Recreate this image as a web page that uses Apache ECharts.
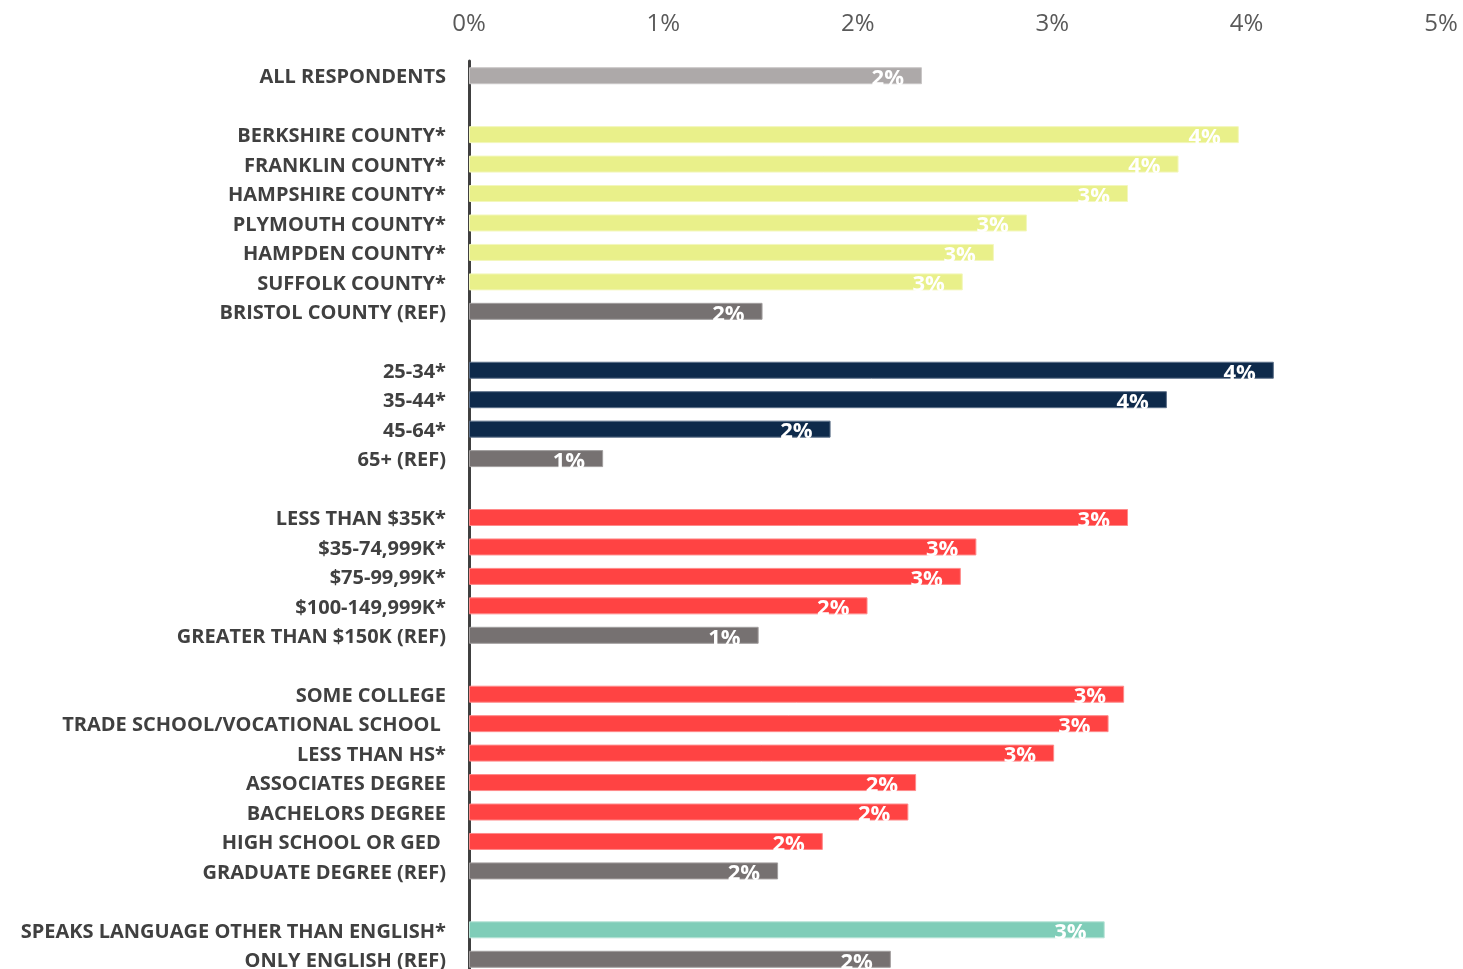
<!DOCTYPE html>
<html>
<head>
<meta charset="utf-8">
<title>Share of respondents by group</title>
<script src="https://cdn.jsdelivr.net/npm/echarts@6/dist/echarts.min.js"></script>
<style>
  html, body { margin: 0; padding: 0; background: #fff; }
  #chart { width: 1463px; height: 969px; }
</style>
</head>
<body>
<div id="chart"></div>
<script>
// Row labels, top to bottom; empty strings are spacer rows between groups
const categories = [
  'ALL RESPONDENTS', '',
  'BERKSHIRE COUNTY*', 'FRANKLIN COUNTY*', 'HAMPSHIRE COUNTY*', 'PLYMOUTH COUNTY*',
  'HAMPDEN COUNTY*', 'SUFFOLK COUNTY*', 'BRISTOL COUNTY (REF)', '',
  '25-34*', '35-44*', '45-64*', '65+ (REF)', '',
  'LESS THAN $35K*', '$35-74,999K*', '$75-99,99K*', '$100-149,999K*', 'GREATER THAN $150K (REF)', '',
  'SOME COLLEGE', 'TRADE SCHOOL/VOCATIONAL SCHOOL ', 'LESS THAN HS*', 'ASSOCIATES DEGREE',
  'BACHELORS DEGREE', 'HIGH SCHOOL OR GED ', 'GRADUATE DEGREE (REF)', '',
  'SPEAKS LANGUAGE OTHER THAN ENGLISH*', 'ONLY ENGLISH (REF)'
];

// Percent values per row (null on spacer rows)
const values = [
  2.33, null,
  3.96, 3.65, 3.39, 2.87, 2.70, 2.54, 1.51, null,
  4.14, 3.59, 1.86, 0.69, null,
  3.39, 2.61, 2.53, 2.05, 1.49, null,
  3.37, 3.29, 3.01, 2.30, 2.26, 1.82, 1.59, null,
  3.27, 2.17
];

// Group each row belongs to (drives the bar colour)
const groups = [
  'all', null,
  'county', 'county', 'county', 'county', 'county', 'county', 'ref', null,
  'age', 'age', 'age', 'ref', null,
  'income', 'income', 'income', 'income', 'ref', null,
  'edu', 'edu', 'edu', 'edu', 'edu', 'edu', 'ref', null,
  'lang', 'ref'
];

const xTicks = { min: 0, max: 5, interval: 1 };

const palette = {
  all:    { fill: '#ADA9A9', border: '#C9C6C6' },
  county: { fill: '#E9F08A', border: '#F3F7BC' },
  ref:    { fill: '#767171', border: '#A29E9E' },
  age:    { fill: '#0E2A4B', border: '#5D7089' },
  income: { fill: '#FF4343', border: '#FF8A8A' },
  edu:    { fill: '#FF4343', border: '#FF8A8A' },
  lang:   { fill: '#7FCDB8', border: '#B5E3D6' }
};

const barData = values.map((v, i) => {
  if (v === null) return { value: null };
  const p = palette[groups[i]];
  return {
    value: v,
    itemStyle: { color: p.fill, borderColor: p.border, borderWidth: 1 }
  };
});

const chart = echarts.init(document.getElementById('chart'));
chart.setOption({
  animation: false,
  // plot area runs a few pixels past the bottom edge of the canvas
  grid: {
    left: 469, width: 972, top: 61, height: 913,
    containLabel: false,
    outerBoundsMode: 'none'
  },
  xAxis: {
    type: 'value',
    position: 'top',
    min: xTicks.min,
    max: xTicks.max,
    interval: xTicks.interval,
    axisLine: { show: false },
    axisTick: { show: false },
    splitLine: { show: false },
    axisLabel: {
      formatter: '{value}%',
      fontFamily: 'Open Sans',
      fontSize: 24,
      color: '#595959',
      margin: 25
    }
  },
  yAxis: {
    type: 'category',
    inverse: true,
    data: categories,
    axisLine: { show: true, lineStyle: { color: '#404040', width: 3 } },
    axisTick: { show: false },
    splitLine: { show: false },
    axisLabel: {
      margin: 23,
      interval: 0,
      formatter: v => (v ? '{c|' + v + '}' : ''),
      rich: {
        c: {
          fontFamily: 'Open Sans',
          fontWeight: 'bold',
          fontSize: 20,
          color: '#404040',
          padding: [4, 0, 0, 0]
        }
      }
    }
  },
  series: [{
    type: 'bar',
    data: barData,
    barWidth: 17,
    label: {
      show: true,
      position: 'insideRight',
      offset: [-13, 3],
      color: '#fff',
      fontFamily: 'Open Sans',
      fontWeight: 'bold',
      fontSize: 22,
      formatter: p => (p.value == null ? '' : Math.round(p.value) + '%')
    }
  }]
});
</script>
</body>
</html>
